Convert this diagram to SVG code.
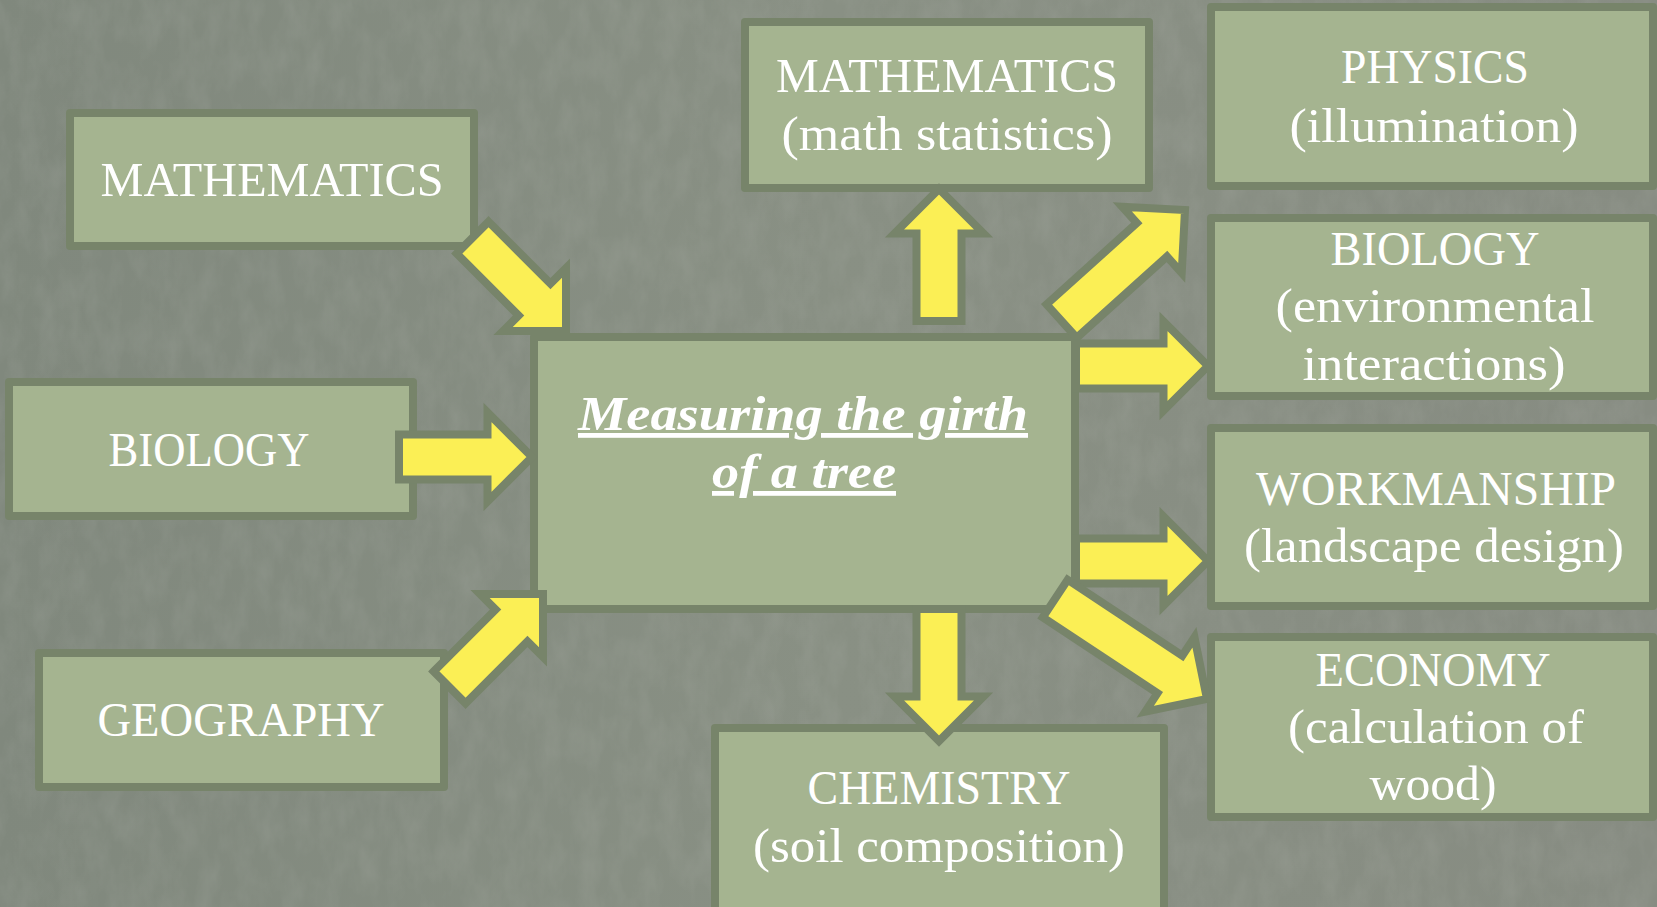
<svg xmlns="http://www.w3.org/2000/svg" width="1657" height="907" viewBox="0 0 1657 907">
<style>
.box{fill:#a5b490;stroke:#77846a;stroke-width:8;stroke-linejoin:round}
.arr{fill:#fbef55;stroke:#77846a;stroke-width:8;stroke-linejoin:miter;stroke-miterlimit:10}
.t{font-family:"Liberation Serif","Times New Roman",serif;font-size:48px;fill:#ffffff;text-anchor:middle}
.title{font-weight:bold;font-style:italic;text-decoration:underline}
</style>
<defs>
<filter id="tex" x="0" y="0" width="100%" height="100%">
<feTurbulence type="fractalNoise" baseFrequency="0.05 0.025" numOctaves="4" seed="7" result="n"/>
<feColorMatrix in="n" type="matrix" values="0 0 0 0 0.45  0 0 0 0 0.47  0 0 0 0 0.43  0 0 0 -1.2 0.8"/>
</filter>
<linearGradient id="bg" x1="0" y1="0" x2="1" y2="0">
<stop offset="0" stop-color="#80887d"/>
<stop offset="0.5" stop-color="#899084"/>
<stop offset="1" stop-color="#878c82"/>
</linearGradient>
</defs>
<rect x="0" y="0" width="1657" height="907" fill="url(#bg)"/>
<rect x="0" y="0" width="1657" height="907" filter="url(#tex)" opacity="0.25"/>

<g id="n-center">
<rect class="box" x="534" y="337" width="541" height="272"/>
<text class="t title" x="803" y="430" textLength="450" lengthAdjust="spacingAndGlyphs">Measuring the girth</text>
<text class="t title" x="804" y="488" textLength="184" lengthAdjust="spacingAndGlyphs">of a tree</text>
</g>
<g id="n-math-left">
<rect class="box" x="70" y="113" width="404" height="133"/>
<text class="t" x="272" y="196" textLength="343" lengthAdjust="spacingAndGlyphs">MATHEMATICS</text>
</g>
<g id="n-biology-left">
<rect class="box" x="9" y="382" width="404" height="134"/>
<text class="t" x="209" y="466" textLength="201" lengthAdjust="spacingAndGlyphs">BIOLOGY</text>
</g>
<g id="n-geography">
<rect class="box" x="39" y="653" width="405" height="134"/>
<text class="t" x="241" y="736" textLength="287" lengthAdjust="spacingAndGlyphs">GEOGRAPHY</text>
</g>
<g id="n-math-top">
<rect class="box" x="745" y="22" width="404" height="166"/>
<text class="t" x="947" y="92" textLength="342" lengthAdjust="spacingAndGlyphs">MATHEMATICS</text>
<text class="t" x="947" y="150" textLength="331" lengthAdjust="spacingAndGlyphs">(math statistics)</text>
</g>
<g id="n-physics">
<rect class="box" x="1211" y="7" width="442" height="179"/>
<text class="t" x="1435" y="83" textLength="188" lengthAdjust="spacingAndGlyphs">PHYSICS</text>
<text class="t" x="1434" y="142" textLength="289" lengthAdjust="spacingAndGlyphs">(illumination)</text>
</g>
<g id="n-biology-right">
<rect class="box" x="1211" y="218" width="442" height="178"/>
<text class="t" x="1435" y="265" textLength="209" lengthAdjust="spacingAndGlyphs">BIOLOGY</text>
<text class="t" x="1435" y="322" textLength="319" lengthAdjust="spacingAndGlyphs">(environmental</text>
<text class="t" x="1434" y="380" textLength="263" lengthAdjust="spacingAndGlyphs">interactions)</text>
</g>
<g id="n-workmanship">
<rect class="box" x="1211" y="428" width="442" height="178"/>
<text class="t" x="1436" y="505" textLength="360" lengthAdjust="spacingAndGlyphs">WORKMANSHIP</text>
<text class="t" x="1434" y="562" textLength="380" lengthAdjust="spacingAndGlyphs">(landscape design)</text>
</g>
<g id="n-economy">
<rect class="box" x="1211" y="637" width="442" height="180"/>
<text class="t" x="1433" y="686" textLength="235" lengthAdjust="spacingAndGlyphs">ECONOMY</text>
<text class="t" x="1436" y="743" textLength="296" lengthAdjust="spacingAndGlyphs">(calculation of</text>
<text class="t" x="1433" y="800" textLength="127" lengthAdjust="spacingAndGlyphs">wood)</text>
</g>
<g id="n-chemistry">
<rect class="box" x="715" y="728" width="449" height="190"/>
<text class="t" x="939" y="804" textLength="263" lengthAdjust="spacingAndGlyphs">CHEMISTRY</text>
<text class="t" x="939" y="862" textLength="372" lengthAdjust="spacingAndGlyphs">(soil composition)</text>
</g>

<g id="connectors">
<polygon class="arr" transform="translate(566,331) rotate(45)" points="-132,-22.5 -44.5,-22.5 -44.5,-44.5 0,0 -44.5,44.5 -44.5,22.5 -132,22.5"/>
<polygon class="arr" transform="translate(532,457)" points="-133,-22.5 -44.5,-22.5 -44.5,-44.5 0,0 -44.5,44.5 -44.5,22.5 -133,22.5"/>
<polygon class="arr" transform="translate(543,594) rotate(-45)" points="-132,-22.5 -44.5,-22.5 -44.5,-44.5 0,0 -44.5,44.5 -44.5,22.5 -132,22.5"/>
<polygon class="arr" transform="translate(939,189) rotate(-90)" points="-132,-22.5 -44.5,-22.5 -44.5,-44.5 0,0 -44.5,44.5 -44.5,22.5 -132,22.5"/>
<polygon class="arr" transform="translate(1185,210) rotate(-42)" points="-166,-22.5 -44.5,-22.5 -44.5,-44.5 0,0 -44.5,44.5 -44.5,22.5 -166,22.5"/>
<polygon class="arr" transform="translate(1208,366)" points="-132,-22.5 -44.5,-22.5 -44.5,-44.5 0,0 -44.5,44.5 -44.5,22.5 -132,22.5"/>
<polygon class="arr" transform="translate(1208,561)" points="-132,-22.5 -44.5,-22.5 -44.5,-44.5 0,0 -44.5,44.5 -44.5,22.5 -132,22.5"/>
<polygon class="arr" transform="translate(1207,699) rotate(33.5)" points="-182,-22.5 -44.5,-22.5 -44.5,-44.5 0,0 -44.5,44.5 -44.5,22.5 -182,22.5"/>
<polygon class="arr" transform="translate(939,741) rotate(90)" points="-132,-22.5 -44.5,-22.5 -44.5,-44.5 0,0 -44.5,44.5 -44.5,22.5 -132,22.5"/>
</g>
</svg>
